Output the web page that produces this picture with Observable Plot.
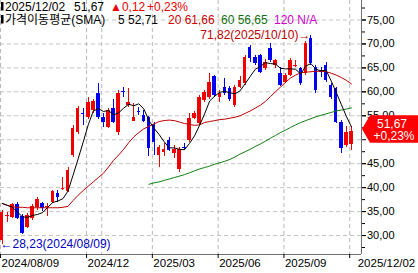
<!DOCTYPE html>
<html><head><meta charset="utf-8">
<script src="https://cdn.jsdelivr.net/npm/d3@7"></script>
<script src="https://cdn.jsdelivr.net/npm/@observablehq/plot@0.6"></script>
<style>
html,body{margin:0;padding:0;background:#fff;}
#wrap{position:relative;width:418px;height:273px;overflow:hidden;}
</style></head><body><div id="wrap"></div>
<script>
// Weekly candles, index 0 = week of 2024/08/09 ... index 69 = 2025/12/02
const opens  = [29.0,34.0,33.7,36.5,34.0,31.7,33.5,35.9,36.6,35.8, 37.0,38.7,39.6,39.1,46.7,51.6,55.5,54.7,56.1,59.6, 54.6,52.6,56.5,51.6,60.0,57.2,53.9,55.9,55.1,54.6, 53.2,46.7,47.3,49.8,47.1,43.7,48.4,49.8,54.4,53.3, 58.2,58.9,63.1,58.9,61.0,60.6,57.2,61.0,61.7,69.3, 67.2,67.6,64.8,69.0,65.5,63.8,62.0,63.4,65.3,64.8, 63.8,71.1,65.1,64.3,65.5,61.3,60.6,53.7,48.8,49.0];
const highs  = [35.3,34.9,36.7,36.8,34.3,34.5,36.4,38.0,37.0,36.6, 39.5,39.3,42.2,44.2,53.0,57.0,56.5,58.9,58.5,61.7, 55.4,56.5,58.5,60.3,61.0,60.6,57.5,56.8,56.0,54.8, 53.7,48.8,49.2,50.5,48.8,48.3,49.2,55.4,55.9,59.3, 60.3,63.8,63.4,60.3,62.7,61.2,61.4,63.1,67.5,69.7, 67.5,67.9,66.8,70.0,66.8,65.0,63.8,66.9,66.5,65.1, 70.6,71.82,65.5,65.1,66.2,61.7,61.0,54.0,52.8,52.8];
const lows   = [28.23,32.8,33.5,33.3,30.3,31.5,33.2,35.2,35.0,34.0, 36.7,36.9,39.4,38.9,46.2,51.0,53.0,54.2,55.5,54.3, 52.6,52.3,53.3,50.9,58.9,56.8,53.8,55.1,53.5,46.4, 46.7,44.3,46.4,47.6,46.0,43.2,47.8,49.5,54.2,53.0, 57.8,58.5,58.9,57.8,59.2,57.9,56.8,60.8,61.3,66.2, 65.4,63.9,64.4,66.2,64.8,61.1,61.8,63.2,65.1,61.3, 63.5,65.5,59.6,63.0,62.0,58.3,53.3,47.1,48.4,47.7];
const closes = [34.9,34.2,36.5,33.5,30.5,34.2,36.1,37.5,35.6,36.0, 39.2,37.9,39.8,43.6,52.3,56.5,55.3,57.8,58.0,54.7, 53.7,56.1,53.7,59.6,59.8,57.8,54.6,55.7,53.9,48.1, 49.5,48.4,47.9,47.8,47.9,47.9,48.2,54.4,55.4,58.9, 59.9,62.0,59.2,59.6,59.6,58.5,61.0,62.4,67.2,66.9, 65.9,64.1,66.2,66.5,66.5,61.3,63.4,66.5,65.6,61.7, 70.0,65.9,60.3,64.0,62.4,58.9,53.7,48.1,51.6,51.67];

// Moving averages
const ma5  = [36.7,36.3,35.9,34.9,33.9,33.8,34.2,34.4,34.8,35.9, 36.9,37.2,37.7,39.3,42.6,46.0,49.5,53.1,56.0,56.5, 55.9,56.1,55.2,55.6,56.6,57.4,57.1,57.5,56.4,54.0, 52.4,51.1,49.6,48.3,48.3,48.0,47.9,49.2,50.8,53.0, 55.4,58.1,59.1,59.9,60.1,59.8,59.6,60.2,61.7,63.2, 64.7,65.3,66.1,65.9,65.8,64.9,64.8,64.8,64.7,63.7, 65.4,65.9,64.7,64.4,64.5,62.3,59.9,57.4,54.9,52.71];
const ma20 = [36.7,36.3,36.0,35.9,35.9,35.8,35.8,35.8,35.8,35.8, 35.8,35.8,35.9,36.1,37.3,38.4,39.4,40.3,41.2,42.1, 43.0,44.3,45.7,46.8,48.0,49.4,50.6,51.5,52.3,52.8, 53.3,53.8,54.0,54.1,54.0,53.7,53.4,53.2,53.0,53.1, 53.6,53.8,54.0,54.2,54.3,54.5,54.7,55.0,55.5,56.0, 56.6,57.2,58.0,59.0,60.0,61.0,62.0,62.9,63.5,64.0, 64.1,64.2,64.3,64.3,64.2,63.9,63.5,63.0,62.4,61.66];
const ma60Start = 29;
const ma60 = [40.7,41.0,41.2,41.5,41.8,42.1,42.4,42.7,43.1,43.5, 43.9,44.2,44.5,44.9,45.2,45.5,45.9,46.4,47.0,47.5, 48.0,48.6,49.1,49.7,50.3,50.9,51.5,52.0,52.6,53.1, 53.6,54.0,54.4,54.8,55.1,55.4,55.7,56.0,56.2,56.4,56.65];

// Axis / labels
const tickIdx    = [0, 17, 30, 43, 56];
const tickLabels = ["2024/08/09", "2024/12", "2025/03", "2025/06", "2025/09"];
const lastIdx    = [69];
const lastLabel  = ["2025/12/02"];
const extraVLine = [20];
const yTicks     = [30,35,40,45,50,55,60,65,70,75];
const yLabeled   = [30,35,40,45,55,60,65,70,75];   // 50,00 sits under the price marker
const yMinor     = [27.5,32.5,37.5,42.5,47.5,52.5,57.5,62.5,67.5,72.5,77.5];
const highNote = {i: 61, v: 71.82, t: "71,82(2025/10/10)→"};
const lowNote  = {i: 0,  v: 28.23, t: "←28,23(2024/08/09)"};
const lastPrice = 51.67, lastPct = "+0,23%";

const xDomain = [-0.34, 71.0];
const yDomain = [26.04, 79.07];
const RED = "#f00000", BLUE = "#0000f0";
const FONT = "'Liberation Sans', Arial, 'Noto Sans CJK KR', sans-serif";

const candles = closes.map((c, i) => ({i, o: opens[i], h: highs[i], l: lows[i], c}));
const col = d => d.c >= d.o ? RED : BLUE;
const fmt = d => d.toFixed(2).replace(".", ",");
const tickOff = 0.33;

const chart = Plot.plot({
  width: 418, height: 273,
  marginLeft: 0, marginRight: 57, marginTop: 0, marginBottom: 19,
  x: {domain: xDomain, axis: null},
  y: {domain: yDomain, axis: null},
  style: {fontFamily: FONT, background: "#fff", color: "#000"},
  marks: [
    Plot.ruleY(yTicks, {stroke: "#c4c4c4", strokeDasharray: "4,3"}),
    Plot.ruleX(tickIdx.concat(extraVLine, lastIdx), {x: d => d - tickOff, stroke: "#b8b8b8", strokeDasharray: "4,3"}),
    Plot.ruleX(candles, {x: "i", y1: "l", y2: "h", stroke: col, strokeWidth: 1, shapeRendering: "crispEdges"}),
    Plot.rect(candles, {x1: d => d.i - 0.35, x2: d => d.i + 0.35, y1: "o", y2: "c", fill: col, shapeRendering: "crispEdges"}),
    Plot.line(ma20, {x: (d, i) => i, y: d => d, stroke: "#c00000", strokeWidth: 1}),
    Plot.line(ma60, {x: (d, i) => i + ma60Start, y: d => d, stroke: "#108010", strokeWidth: 1}),
    Plot.line(ma5, {x: (d, i) => i, y: d => d, stroke: "#000", strokeWidth: 1}),
    Plot.ruleX([xDomain[1]], {stroke: "#707070"}),
    Plot.ruleY([yDomain[0]], {stroke: "#707070"}),
    Plot.axisY(yTicks, {anchor: "right", tickSize: 4, fill: "none"}),
    Plot.axisY(yLabeled, {anchor: "right", tickSize: 4, tickPadding: 1.5, tickFormat: fmt, fontSize: 11}),
    Plot.axisY(yMinor, {anchor: "right", tickSize: 3, fill: "none"}),
    Plot.axisX(tickIdx.concat(lastIdx).map(d => d - tickOff), {anchor: "bottom", tickSize: 4, fill: "none"}),
    Plot.text(tickIdx, {x: d => d - tickOff, text: (d, k) => tickLabels[k], frameAnchor: "bottom", lineAnchor: "top", dy: 4, dx: 1, textAnchor: "start", fontSize: 11.5, fill: "#000"}),
    Plot.text(lastIdx, {x: d => d - tickOff, text: (d, k) => lastLabel[k], frameAnchor: "bottom", lineAnchor: "top", dy: 4, dx: 8, textAnchor: "start", fontSize: 11.5, fill: "#000"}),
    Plot.text([highNote], {x: "i", y: "v", text: "t", textAnchor: "end", dx: -0.5, fill: "#c00000", fontSize: 12}),
    Plot.text([lowNote], {x: "i", y: "v", text: "t", textAnchor: "start", dx: -1.7, fill: "#0000c0", fontSize: 12})
  ]
});

document.getElementById("wrap").appendChild(chart);

// Header (legend overlaid inside the plot, like the original)
const svg = d3.select(chart);
const hdr = svg.append("g").attr("font-family", FONT).attr("font-size", 12).attr("text-anchor", "start");
const rows = [
  {y: 10.5, segs: [
    {x: 5, t: "2025/12/02", c: "#000"},
    {x: 74, t: "51,67", c: "#000"},
    {x: 110, t: "▲0,12", c: RED},
    {x: 147, t: "+0,23%", c: RED}]},
  {y: 23.5, segs: [
    {x: 5, t: "가격이동평균(SMA)", c: "#000"},
    {x: 118, t: "5 52,71", c: "#000"},
    {x: 168, t: "20 61,66", c: "#d00000"},
    {x: 221, t: "60 56,65", c: "#107010"},
    {x: 274, t: "120 N/A", c: "#d000d0"}]}
];
rows.forEach(r => {
  hdr.append("rect").attr("x", 1).attr("y", r.y - 8.5).attr("width", 2.5).attr("height", 8.5).attr("fill", "#000");
  r.segs.forEach(s => hdr.append("text").attr("x", s.x).attr("y", r.y).attr("fill", s.c).attr("text-anchor", "start").text(s.t));
});

// Current price marker on the right axis
const yp = chart.scale("y").apply(lastPrice);
const marker = svg.append("g").attr("font-family", FONT).attr("font-size", 12);
const boxTop = yp - 16, boxBot = yp + 11.5, boxMid = (boxTop + boxBot) / 2;
marker.append("path").attr("d", `M362,${boxMid} L370,${boxTop} L418,${boxTop} L418,${boxBot} L370,${boxBot} Z`).attr("fill", "#ff0000");
marker.append("text").attr("x", 392).attr("y", yp - 3).attr("text-anchor", "middle").attr("fill", "#fff").text(fmt(lastPrice));
marker.append("text").attr("x", 394).attr("y", yp + 8.7).attr("text-anchor", "middle").attr("fill", "#fff").text(lastPct);
</script>
</body></html>
